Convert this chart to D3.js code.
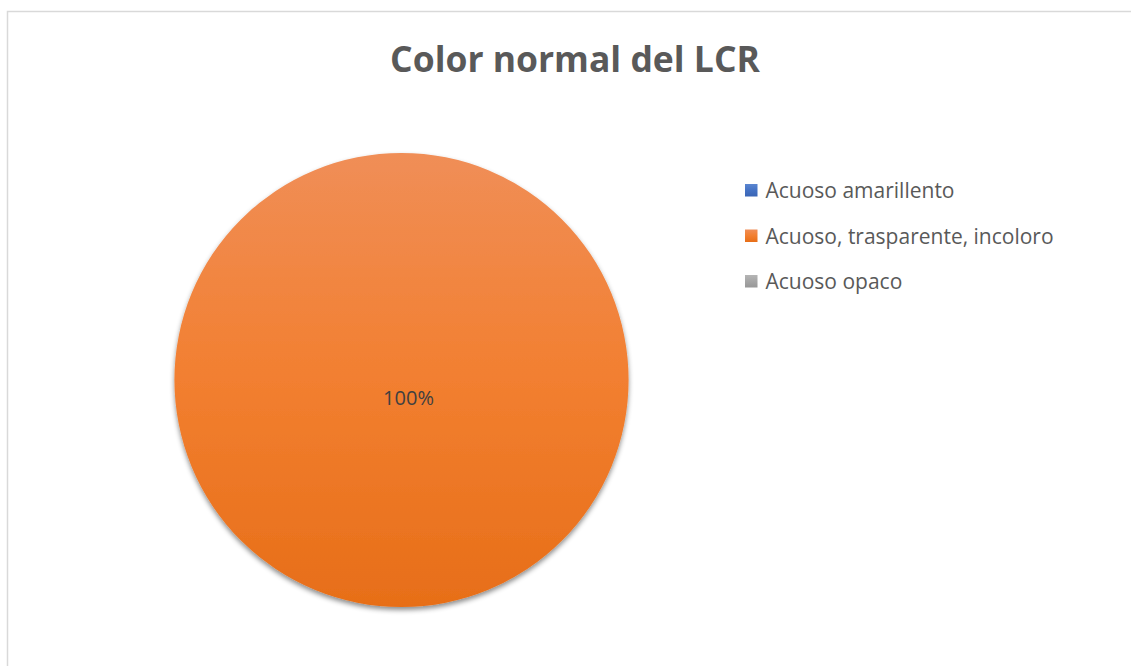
<!DOCTYPE html>
<html><head><meta charset="utf-8">
<script src="https://cdn.jsdelivr.net/npm/d3@7"></script>
<style>html,body{margin:0;padding:0;background:#fff;overflow:hidden}</style>
</head><body>
<svg id="c" width="1131" height="666"></svg>
<script>
const title = "Color normal del LCR";
const categories = ["Acuoso amarillento", "Acuoso, trasparente, incoloro", "Acuoso opaco"];
const values = [0, 100, 0];
const colors = ["#4472C4", "#ED7D31", "#A5A5A5"];

const svg = d3.select("#c");
const W = 1131, H = 666;
svg.append("rect").attr("x", 7.5).attr("y", 11.5).attr("width", W + 10).attr("height", H + 10)
  .attr("fill", "#fff").attr("stroke", "#D9D9D9").attr("stroke-width", 1.5);

const defs = svg.append("defs");
const grads = [
  ["#5B86D0", "#4472C4", "#3A65B5"],
  ["#F08E57", "#F27F30", "#E76E18"],
  ["#B5B5B5", "#A5A5A5", "#979797"]
];
grads.forEach((g, i) => {
  const lg = defs.append("linearGradient").attr("id", "g" + i)
    .attr("x1", 0).attr("y1", 0).attr("x2", 0).attr("y2", 1);
  lg.append("stop").attr("offset", "0%").attr("stop-color", g[0]);
  lg.append("stop").attr("offset", "50%").attr("stop-color", g[1]);
  lg.append("stop").attr("offset", "100%").attr("stop-color", g[2]);
});
const f = defs.append("filter").attr("id", "sh").attr("x", "-10%").attr("y", "-10%").attr("width", "120%").attr("height", "125%");
f.append("feDropShadow").attr("dx", 0).attr("dy", 3).attr("stdDeviation", 2.5)
  .attr("flood-color", "#000").attr("flood-opacity", 0.45);

// title
const t = svg.append("text").attr("x", 575).attr("y", 72).attr("text-anchor", "middle")
  .attr("font-family", "Open Sans, sans-serif").attr("font-weight", "bold")
  .attr("fill", "#595959").attr("font-size", 36).text(title);
const tw = t.node().getComputedTextLength();
t.attr("font-size", 36 * 370 / tw);

// pie
const cx = 401.5, cy = 380, r = 227;
const pie = d3.pie().sort(null).startAngle(0).endAngle(2 * Math.PI);
const arcs = pie(values);
const arc = d3.arc().innerRadius(0).outerRadius(r);
const g = svg.append("g").attr("transform", `translate(${cx},${cy})`);
g.selectAll("path").data(arcs).join("path")
  .filter(d => d.value > 0)
  .attr("d", arc)
  .attr("fill", d => `url(#g${d.index})`)
  .attr("filter", "url(#sh)");
const total = d3.sum(values);
const nonZero = values.filter(v => v > 0).length;
const lblArc = d3.arc().innerRadius(r * 0.6).outerRadius(r * 0.6);
g.selectAll("text.lbl").data(arcs.filter(d => d.value > 0)).join("text")
  .attr("class", "lbl")
  .attr("x", d => nonZero === 1 ? 7 : lblArc.centroid(d)[0])
  .attr("y", d => nonZero === 1 ? 25 : lblArc.centroid(d)[1])
  .attr("text-anchor", "middle")
  .attr("font-family", "Open Sans, sans-serif").attr("font-size", 20)
  .attr("fill", "#404040")
  .text(d => Math.round(d.value / total * 100) + "%");

// legend
const leg = svg.append("g");
const rows = leg.selectAll("g").data(categories).join("g")
  .attr("transform", (d, i) => `translate(745,${198 + i * 45.5})`);
rows.append("rect").attr("x", 0).attr("y", -14).attr("width", 12.5).attr("height", 12.5)
  .attr("fill", (d, i) => `url(#g${i})`);
rows.append("text").attr("x", 20.5).attr("y", 0)
  .attr("font-family", "Open Sans, sans-serif").attr("font-size", 21)
  .attr("fill", "#595959").text(d => d);
</script>
</body></html>
